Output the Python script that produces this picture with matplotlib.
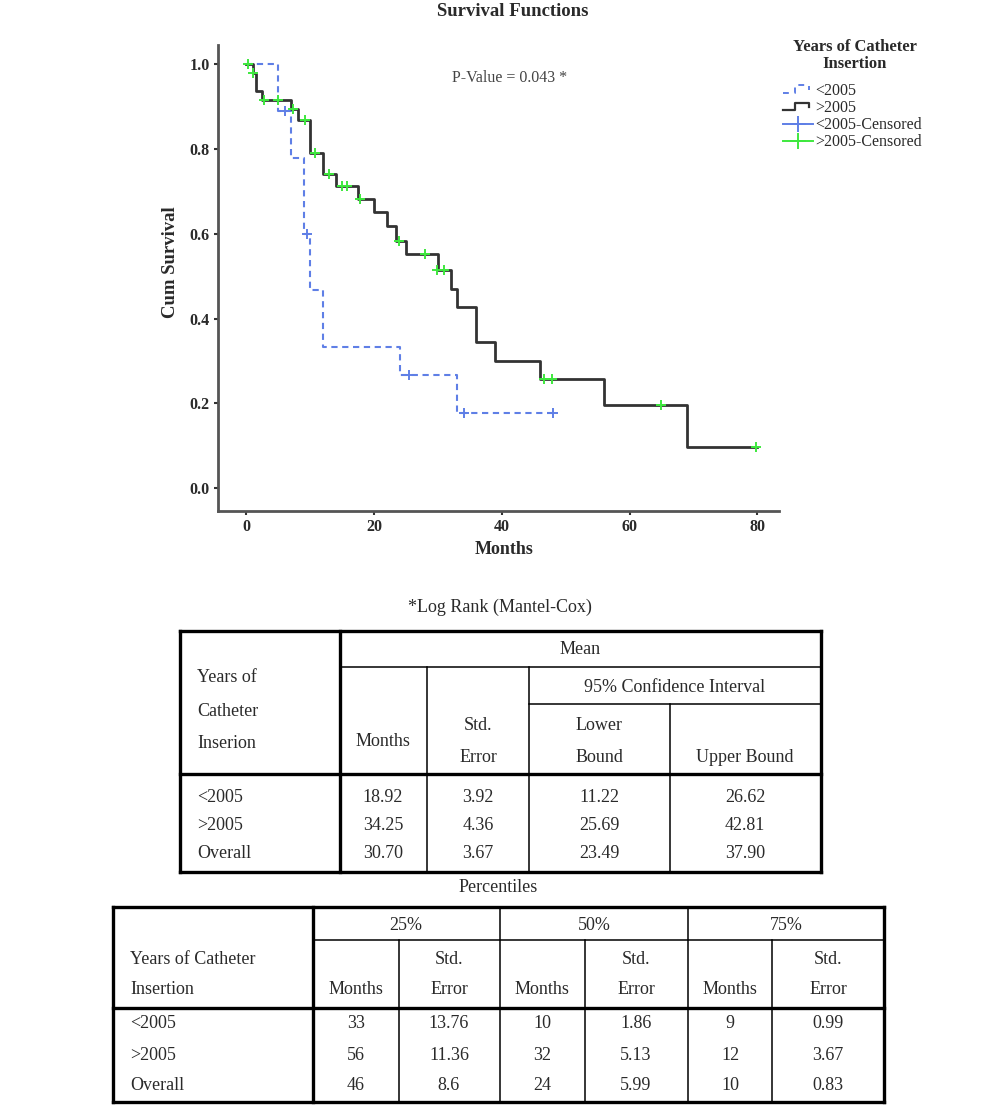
import matplotlib
matplotlib.use("Agg")
import matplotlib.pyplot as plt
from matplotlib.lines import Line2D
from matplotlib.legend_handler import HandlerBase

plt.rcParams['font.family'] = ['Liberation Serif', 'DejaVu Serif']

# ---------------- data ----------------
lt_times = [0, 5, 7, 9, 10, 12, 24, 33]
lt_surv = [1.0, 0.89, 0.78, 0.60, 0.467, 0.333, 0.267, 0.178]
lt_end = 48
lt_cens_t = [6, 9.5, 25.5, 34, 48]
lt_cens_s = [0.89, 0.60, 0.267, 0.178, 0.178]

gt_times = [0, 1, 1.5, 2.5, 7, 8, 10, 12, 14, 17.5, 20, 22, 23.5, 25, 30, 32, 33, 36, 39, 46, 56, 69]
gt_surv = [1.0, 0.98, 0.937, 0.917, 0.894, 0.870, 0.792, 0.741, 0.713, 0.682, 0.651, 0.619,
           0.583, 0.552, 0.515, 0.471, 0.428, 0.344, 0.300, 0.258, 0.196, 0.097]
gt_end = 80
gt_cens_t = [0.3, 1.0, 2.8, 4.9, 7.3, 9.1, 10.8, 12.9, 15.0, 15.7, 17.8, 23.9, 27.9, 29.9, 31.0,
             46.6, 47.8, 64.9, 79.8]
gt_cens_s = [1.0, 0.98, 0.917, 0.917, 0.894, 0.870, 0.792, 0.741, 0.713, 0.713, 0.682, 0.583,
             0.552, 0.515, 0.515, 0.258, 0.258, 0.196, 0.097]

x_ticks = [0, 20, 40, 60, 80]
y_ticks = [0.0, 0.2, 0.4, 0.6, 0.8, 1.0]

legend_labels = ['<2005', '>2005', '<2005-Censored', '>2005-Censored']

t1_rows = ['<2005', '>2005', 'Overall']
t1_months = ['18.92', '34.25', '30.70']
t1_se = ['3.92', '4.36', '3.67']
t1_lower = ['11.22', '25.69', '23.49']
t1_upper = ['26.62', '42.81', '37.90']

t2_rows = ['<2005', '>2005', 'Overall']
t2_p25_m = ['33', '56', '46']
t2_p25_se = ['13.76', '11.36', '8.6']
t2_p50_m = ['10', '32', '24']
t2_p50_se = ['1.86', '5.13', '5.99']
t2_p75_m = ['9', '12', '10']
t2_p75_se = ['0.99', '3.67', '0.83']

# ---------------- styles ----------------
BLUE = '#5f7fe6'
GREEN = '#3ee83e'
DARK = '#333333'
SPINE = '#555555'
TXT = '#2a2a2a'

W, H = 1000, 1112
fig = plt.figure(figsize=(W / 100, H / 100), dpi=100)

# plot axes: left 218, right 779, top 45, bottom 511 (pixels)
ax = fig.add_axes([218 / W, 1 - 511 / H, (779 - 218) / W, (511 - 45) / H])
ax.set_xlim(-4.45, 83.4)
ax.set_ylim(-0.054, 1.046)

ax.step(lt_times + [lt_end], lt_surv + [lt_surv[-1]], where='post', color=BLUE,
        lw=1.5, dashes=(3, 2.2))
ax.step(gt_times + [gt_end], gt_surv + [gt_surv[-1]], where='post', color=DARK, lw=2.0)
ax.plot(lt_cens_t, lt_cens_s, ls='none', marker='+', ms=7, mew=1.4, color=BLUE)
ax.plot(gt_cens_t, gt_cens_s, ls='none', marker='+', ms=7, mew=1.4, color=GREEN)

for s in ['top', 'right']:
    ax.spines[s].set_visible(False)
for s in ['left', 'bottom']:
    ax.spines[s].set_linewidth(2.0)
    ax.spines[s].set_color(SPINE)

ax.set_xticks(x_ticks)
ax.set_yticks(y_ticks)
ax.set_yticklabels([f'{v:.1f}' for v in y_ticks])
ax.tick_params(direction='out', length=3, width=1.5, color=DARK, labelsize=11.5,
               labelcolor=TXT, pad=3)
for lab in ax.get_xticklabels() + ax.get_yticklabels():
    lab.set_fontweight('bold')
ax.set_xlabel('Months', fontsize=13, fontweight='bold', color=TXT)
ax.xaxis.set_label_coords((504 - 218) / 561, (511 - 541) / 466)
ax.set_ylabel('Cum Survival', fontsize=13.5, fontweight='bold', color=TXT)
ax.yaxis.set_label_coords((179 - 218) / 561, (511 - 262) / 466)

fig.text(510 / W, 1 - 78 / H, 'P-Value = 0.043 *', fontsize=11.5, color='#444444',
         ha='center', va='center')
fig.text(513 / W, 1 - 12 / H, 'Survival Functions', fontsize=13.5, fontweight='bold',
         color=TXT, ha='center', va='center')


# legend
class StepHandler(HandlerBase):
    def create_artists(self, legend, orig_handle, xdescent, ydescent, width, height,
                       fontsize, trans):
        x0, y0 = -xdescent, -ydescent
        xs = [x0, x0 + 0.4 * width, x0 + 0.4 * width, x0 + 0.85 * width, x0 + 0.85 * width]
        ys = [y0 + 0.15 * height, y0 + 0.15 * height, y0 + 0.85 * height,
              y0 + 0.85 * height, y0 + 0.45 * height]
        ln = Line2D(xs, ys, color=orig_handle.get_color(), lw=orig_handle.get_linewidth(),
                    linestyle=orig_handle.get_linestyle())
        if orig_handle.get_linestyle() in ('--', 'dashed'):
            ln.set_dashes((3, 3))
        ln.set_transform(trans)
        return [ln]


h_lt = Line2D([], [], color=BLUE, lw=1.4, ls='--')
h_gt = Line2D([], [], color=DARK, lw=1.6)
h_ltc = Line2D([], [], color=BLUE, lw=1.4, marker='+', ms=11, mew=1.4)
h_gtc = Line2D([], [], color=GREEN, lw=1.4, marker='+', ms=11, mew=1.4)

fig.text(855 / W, 1 - 47 / H, 'Years of Catheter', fontsize=12, fontweight='bold',
         color=TXT, ha='center', va='center')
fig.text(855 / W, 1 - 64 / H, 'Insertion', fontsize=12, fontweight='bold',
         color=TXT, ha='center', va='center')
leg = fig.legend([h_lt, h_gt, h_ltc, h_gtc], legend_labels, loc='upper left',
                 bbox_to_anchor=(783 / W, 1 - 83 / H), frameon=False, fontsize=11.5,
                 handlelength=1.9, handletextpad=0.15, labelspacing=0.07, borderpad=0,
                 borderaxespad=0,
                 handler_map={h_lt: StepHandler(), h_gt: StepHandler()})
for t in leg.get_texts():
    t.set_color(TXT)

# ---------------- tables (pixel coordinates) ----------------
tx = fig.add_axes([0, 0, 1, 1])
tx.set_xlim(0, W)
tx.set_ylim(H, 0)
tx.axis('off')

THICK = 2.4
THIN = 1.1
FS = 13


def hline(y, x0, x1, lw):
    tx.plot([x0, x1], [y, y], color='black', lw=lw, solid_capstyle='projecting')


def vline(x, y0, y1, lw):
    tx.plot([x, x], [y0, y1], color='black', lw=lw, solid_capstyle='projecting')


def txt(x, y, s, ha='center'):
    tx.text(x, y, s, ha=ha, va='center', fontsize=FS, color=TXT)


# Table 1
tx.text(500, 607, '*Log Rank (Mantel-Cox)', ha='center', va='center', fontsize=FS, color=TXT)
L, R, T, B = 180, 821, 631, 872
hline(T, L, R, THICK)
hline(B, L, R, THICK)
vline(L, T, B, THICK)
vline(R, T, B, THICK)
hline(774, L, R, THICK)
hline(667, 340, R, THIN)
hline(704, 529, R, THIN)
vline(340, T, B, THICK)
vline(427, 667, B, THIN)
vline(529, 667, B, THIN)
vline(670, 704, B, THIN)

txt(197, 678, 'Years of', ha='left')
txt(197, 711, 'Catheter', ha='left')
txt(197, 744, 'Inserion', ha='left')
txt(580, 650, 'Mean')
txt(675, 687, '95% Confidence Interval')
txt(383, 742, 'Months')
txt(478, 725, 'Std.')
txt(478, 758, 'Error')
txt(599, 725, 'Lower')
txt(599, 758, 'Bound')
txt(745, 758, 'Upper Bound')
row_y1 = [797, 825, 853]
for i, y in enumerate(row_y1):
    txt(197, y, t1_rows[i], ha='left')
    txt(383, y, t1_months[i])
    txt(478, y, t1_se[i])
    txt(599, y, t1_lower[i])
    txt(745, y, t1_upper[i])

# Table 2
tx.text(498, 888, 'Percentiles', ha='center', va='center', fontsize=FS, color=TXT)
L, R, T, B = 113, 884, 907, 1102
hline(T, L, R, THICK)
hline(B, L, R, THICK)
vline(L, T, B, THICK)
vline(R, T, B, THICK)
hline(1008, L, R, THICK)
hline(940, 313, R, THIN)
vline(313, T, B, THICK)
vline(500, T, B, THIN)
vline(688, T, B, THIN)
for x in (399, 585, 772):
    vline(x, 940, B, THIN)

txt(130, 960, 'Years of Catheter', ha='left')
txt(130, 990, 'Insertion', ha='left')
txt(406, 925, '25%')
txt(594, 925, '50%')
txt(786, 925, '75%')
cols_m = [356, 542, 730]
cols_se = [449, 636, 828]
for xm, xs in zip(cols_m, cols_se):
    txt(xm, 990, 'Months')
    txt(xs, 960, 'Std.')
    txt(xs, 990, 'Error')
row_y2 = [1024, 1055, 1085]
for i, y in enumerate(row_y2):
    txt(130, y, t2_rows[i], ha='left')
    txt(cols_m[0], y, t2_p25_m[i])
    txt(cols_se[0], y, t2_p25_se[i])
    txt(cols_m[1], y, t2_p50_m[i])
    txt(cols_se[1], y, t2_p50_se[i])
    txt(cols_m[2], y, t2_p75_m[i])
    txt(cols_se[2], y, t2_p75_se[i])

fig.savefig('out.png', dpi=100)
